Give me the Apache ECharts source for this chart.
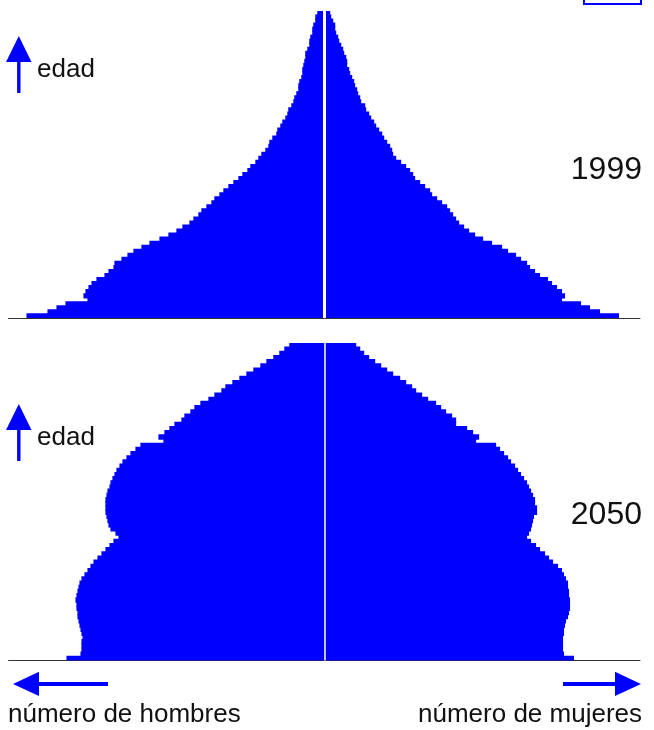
<!DOCTYPE html>
<html>
<head>
<meta charset="utf-8">
<script src="https://cdn.jsdelivr.net/npm/echarts@6/dist/echarts.min.js"></script>
<style>
  html, body { margin: 0; padding: 0; background: #fff; }
  #chart { width: 654px; height: 730px; }
</style>
</head>
<body>
<div id="chart"></div>
<script>
// ages, youngest at the bottom of each pyramid
const edades = Array.from({length: 76}, (_, i) => String(i));

// 1999 (arbitrary units)
const hombres1999 = [298, 277, 268, 259, 237, 241, 239, 236, 233, 228,
    220, 216, 211, 210, 203, 197, 191, 183, 175, 165,
    156, 148, 142, 135, 131, 126, 123, 118, 113, 110,
    105, 101, 96, 91, 86, 82, 77, 74, 69, 66,
    63, 59, 56, 55, 52, 48, 47, 44, 42, 39,
    37, 36, 33, 31, 30, 28, 26, 26, 25, 23,
    22, 22, 21, 20, 19, 19, 17, 15, 15, 14,
    12, 12, 11, 9, 9, 7];
const mujeres1999 = [295, 276, 266, 257, 238, 241, 238, 233, 228, 224,
    216, 211, 206, 203, 197, 192, 184, 178, 168, 159,
    151, 145, 140, 135, 132, 129, 126, 123, 118, 113,
    108, 106, 101, 96, 91, 89, 86, 82, 77, 72,
    69, 68, 66, 63, 60, 58, 55, 52, 50, 47,
    45, 42, 41, 37, 36, 34, 33, 31, 30, 28,
    26, 25, 23, 23, 22, 20, 19, 17, 15, 14,
    12, 11, 11, 9, 7, 6];

// 2050
const hombres2050 = [258, 244, 243, 243, 243, 242, 243, 244, 245, 246,
    247, 247, 248, 248, 249, 248, 247, 246, 245, 243,
    240, 237, 234, 231, 227, 223, 219, 215, 211, 206,
    209, 214, 216, 217, 218, 219, 219, 219, 219, 218,
    217, 215, 214, 212, 210, 208, 205, 202, 198, 194,
    189, 184, 161, 166, 160, 155, 150, 143, 140, 134,
    130, 124, 116, 110, 103, 99, 92, 85, 78, 71,
    64, 58, 51, 45, 40, 35];
const mujeres2050 = [250, 240, 239, 239, 239, 239, 240, 240, 241, 242,
    244, 245, 246, 246, 246, 245, 245, 244, 244, 242,
    240, 238, 234, 229, 225, 221, 216, 212, 207, 203,
    205, 207, 208, 209, 210, 213, 213, 211, 211, 209,
    207, 205, 203, 200, 197, 194, 191, 187, 184, 180,
    176, 172, 152, 155, 149, 143, 132, 132, 128, 122,
    117, 112, 104, 98, 92, 88, 82, 76, 69, 63,
    57, 51, 45, 40, 36, 32];

const años = ['1999', '2050'];

const azul = '#0000ff';
const fuente = '"Liberation Sans", Arial, Helvetica, sans-serif';
const maxX = 316;

const chart = echarts.init(document.getElementById('chart'));

function barSeries(grid, data, negate, gapWidth) {
    const s = {
        type: 'bar',
        xAxisIndex: grid,
        yAxisIndex: grid,
        data: data.map(v => negate ? -v : v),
        // a bit wider than the band so neighbouring ages overlap, no seams
        barWidth: '130%',
        barGap: '-100%',
        itemStyle: {color: azul},
        silent: true,
    };
    if (gapWidth) {
        // white line down the middle
        s.markLine = {
            silent: true,
            symbol: 'none',
            label: {show: false},
            lineStyle: {color: '#ffffff', width: gapWidth, type: 'solid'},
            data: [{xAxis: 0}],
        };
    }
    return s;
}

function upArrow(dy) {
    return [
        {type: 'polygon', shape: {points: [[6, 62 + dy], [31.5, 62 + dy], [18.8, 36 + dy]]}, style: {fill: azul}},
        {type: 'rect', shape: {x: 17.1, y: 61 + dy, width: 3.4, height: 32}, style: {fill: azul}},
        {type: 'text', style: {text: 'edad', x: 37, y: 70 + dy, font: '26px ' + fuente, fill: '#111',
            textVerticalAlign: 'middle', verticalAlign: 'middle'}},
    ];
}

function xAxis(grid) {
    return {
        type: 'value', gridIndex: grid, min: -maxX, max: maxX,
        axisLine: {show: true, lineStyle: {color: '#333', width: 1}},
        axisTick: {show: false}, axisLabel: {show: false}, splitLine: {show: false},
    };
}

function yAxis(grid) {
    return {
        type: 'category', gridIndex: grid, data: edades,
        axisLine: {show: false}, axisTick: {show: false}, axisLabel: {show: false}, splitLine: {show: false},
    };
}

const option = {
    animation: false,
    backgroundColor: '#fff',
    grid: [
        {left: 8.5, right: 14, top: 11, height: 307},
        {left: 8.5, right: 14, top: 343, height: 317.5},
    ],
    xAxis: [xAxis(0), xAxis(1)],
    yAxis: [yAxis(0), yAxis(1)],
    series: [
        barSeries(0, hombres1999, true),
        barSeries(0, mujeres1999, false, 3),
        barSeries(1, hombres2050, true),
        barSeries(1, mujeres2050, false, 1.5),
    ],
    graphic: [
        ...upArrow(0),
        ...upArrow(368),
        {type: 'text', style: {text: años[0], x: 642, y: 170, font: '32px ' + fuente, fill: '#111',
            textAlign: 'right', align: 'right', textVerticalAlign: 'middle', verticalAlign: 'middle'}},
        {type: 'text', style: {text: años[1], x: 642, y: 515, font: '32px ' + fuente, fill: '#111',
            textAlign: 'right', align: 'right', textVerticalAlign: 'middle', verticalAlign: 'middle'}},
        // bottom arrows
        {type: 'polygon', shape: {points: [[13, 684], [39, 671.7], [39, 696]]}, style: {fill: azul}},
        {type: 'rect', shape: {x: 38, y: 682, width: 70, height: 4}, style: {fill: azul}},
        {type: 'polygon', shape: {points: [[641, 684], [615, 671.7], [615, 696]]}, style: {fill: azul}},
        {type: 'rect', shape: {x: 563, y: 682, width: 53, height: 4}, style: {fill: azul}},
        {type: 'text', style: {text: 'número de hombres', x: 8, y: 715, font: '26px ' + fuente, fill: '#111',
            textVerticalAlign: 'middle', verticalAlign: 'middle'}},
        {type: 'text', style: {text: 'número de mujeres', x: 642, y: 715, font: '26px ' + fuente, fill: '#111',
            textAlign: 'right', align: 'right', textVerticalAlign: 'middle', verticalAlign: 'middle'}},
        // box cut off at the top right corner
        {type: 'rect', shape: {x: 584, y: -10, width: 57, height: 14}, style: {fill: 'none', stroke: azul, lineWidth: 2}},
    ],
};

chart.setOption(option);
</script>
</body>
</html>
